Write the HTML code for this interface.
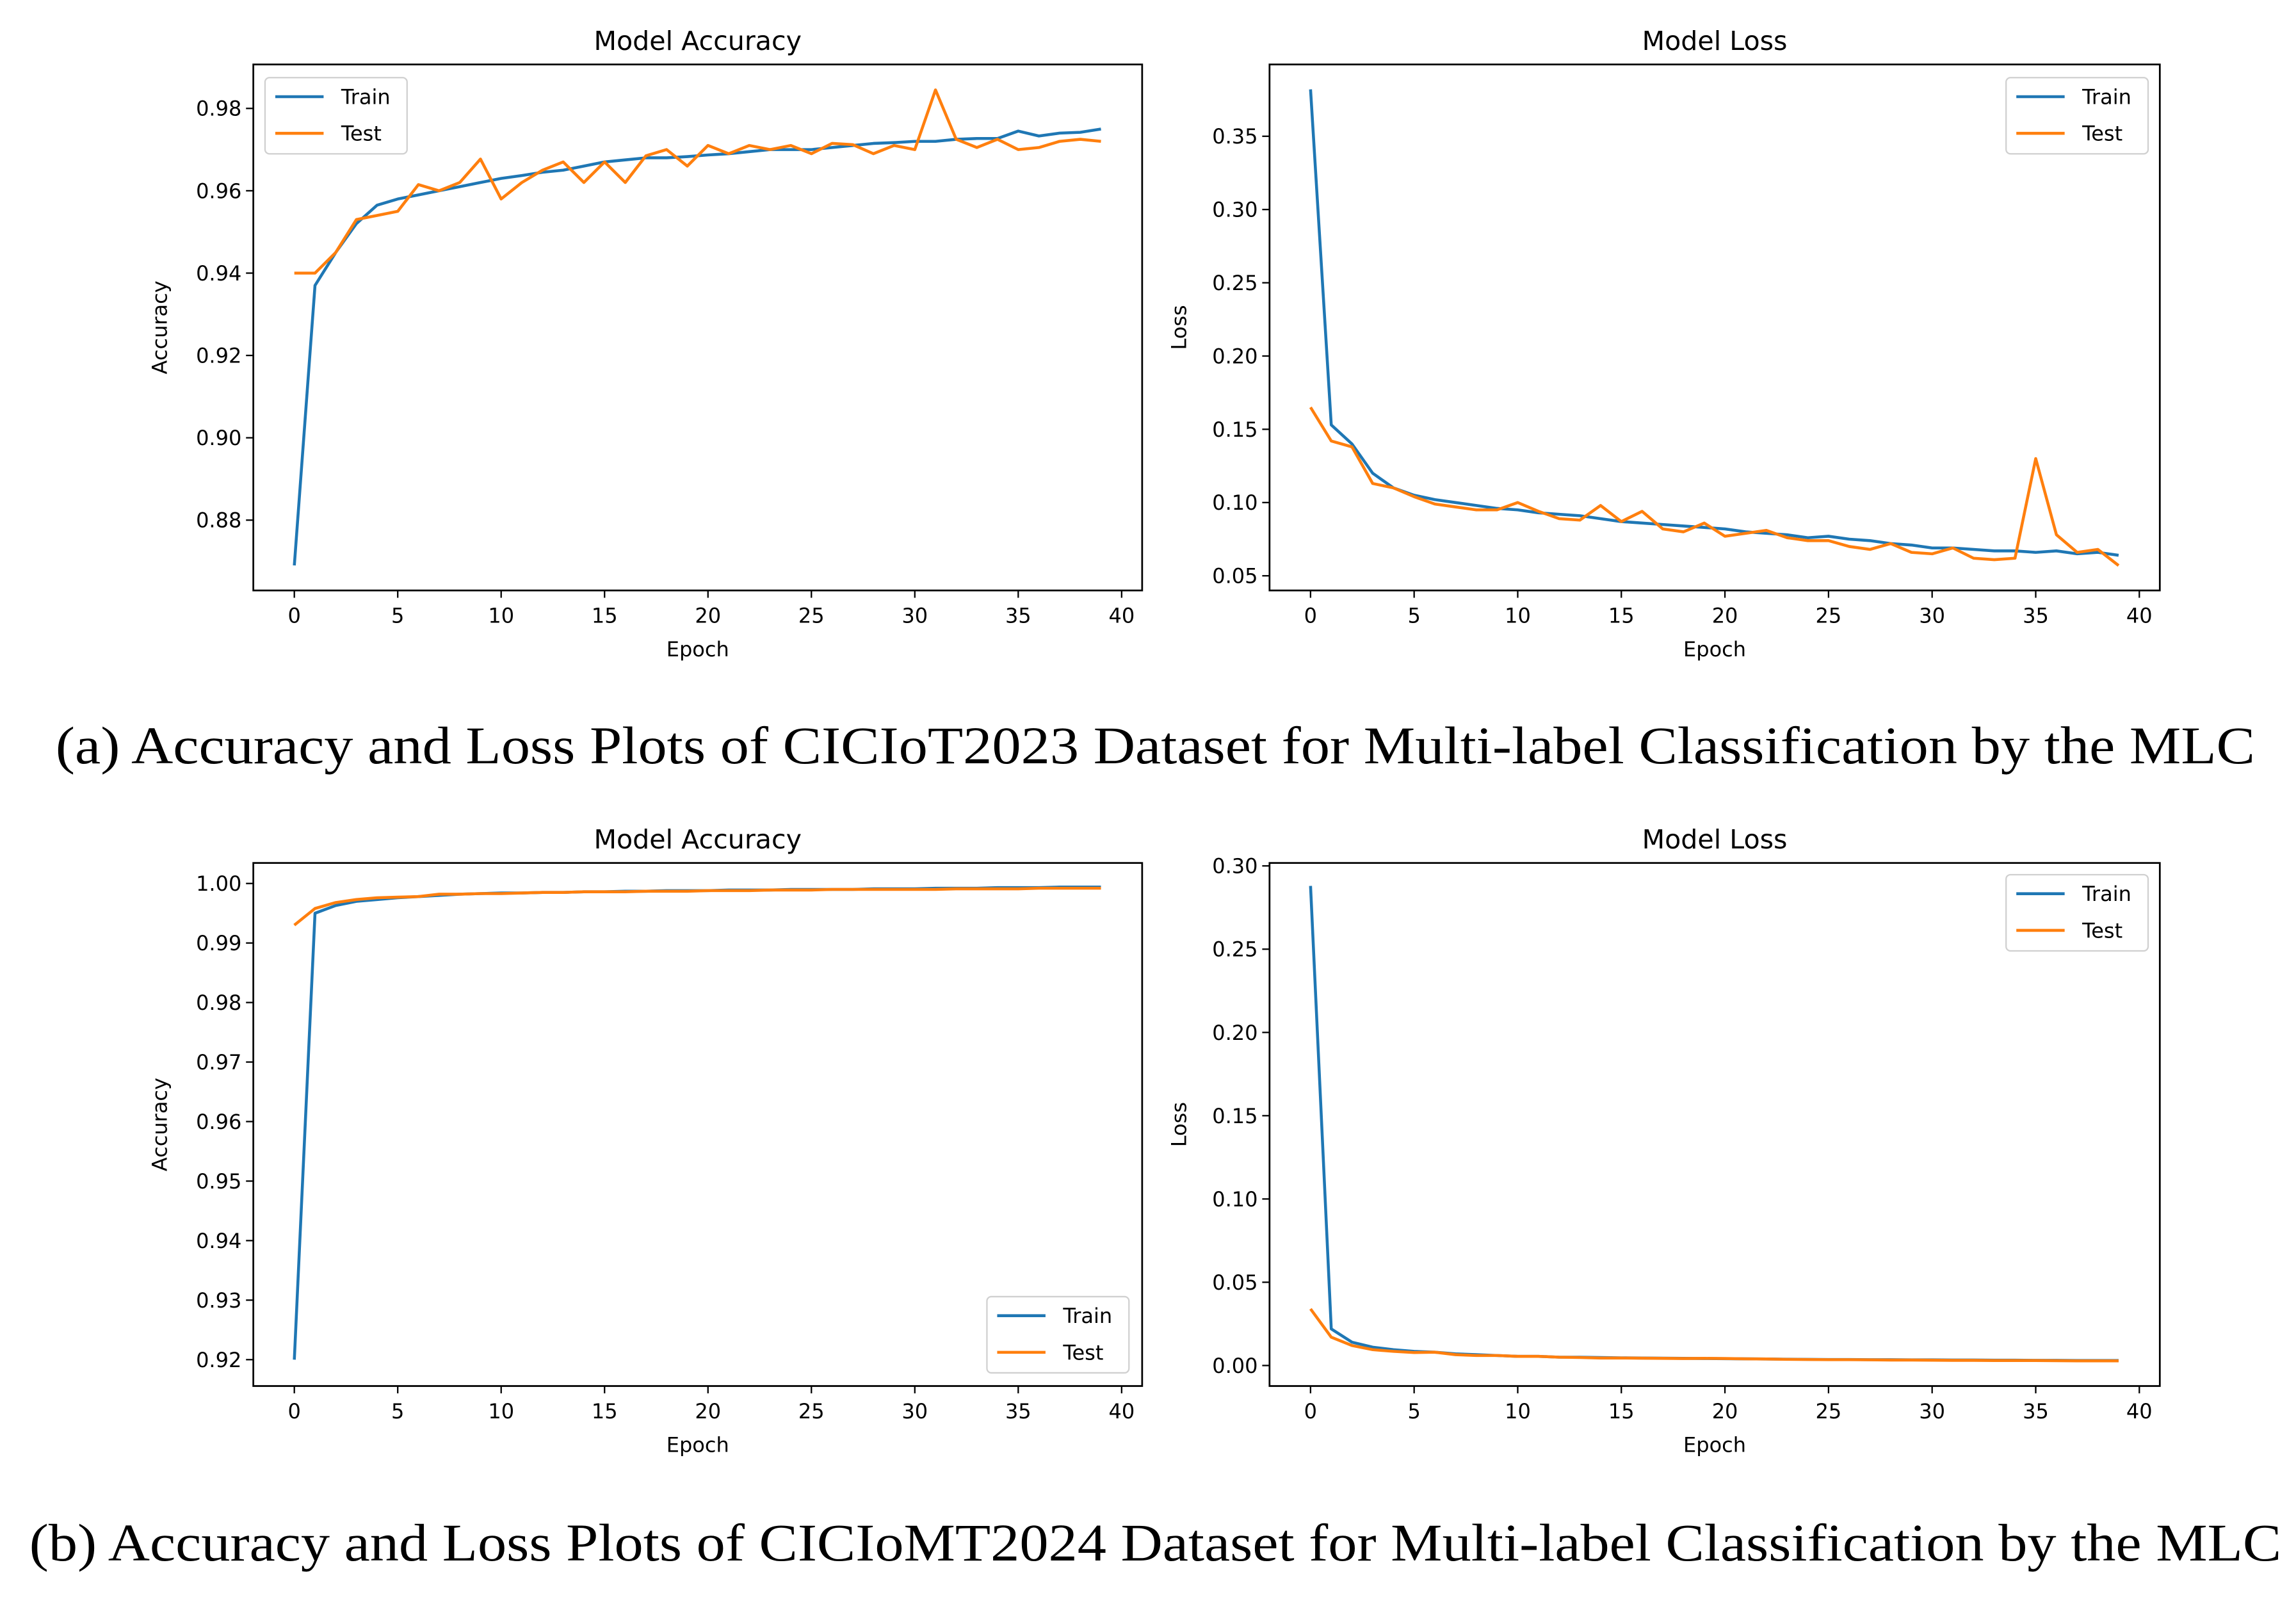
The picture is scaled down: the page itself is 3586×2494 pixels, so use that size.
<!DOCTYPE html>
<html><head><meta charset="utf-8">
<style>
html,body{margin:0;padding:0;background:#fff;}
svg{display:block;}
text{font-family:"DejaVu Sans","Liberation Sans",sans-serif;fill:#000;}
.cap{font-family:"Liberation Serif",serif;}
</style></head>
<body>
<svg id="fig" width="3586" height="2494" viewBox="0 0 1568 1090" preserveAspectRatio="none" xmlns="http://www.w3.org/2000/svg">
<text class="cap" x="38" y="521" font-size="36" textLength="1502" lengthAdjust="spacingAndGlyphs">(a)   Accuracy and Loss Plots of CICIoT2023 Dataset for Multi-label Classification by the MLC</text>
<text class="cap" x="20" y="1065" font-size="36" textLength="1538" lengthAdjust="spacingAndGlyphs">(b)   Accuracy and Loss Plots of CICIoMT2024 Dataset for Multi-label Classification by the MLC</text>
</svg>
<script>
const epochs = Array.from({length:40},(_,i)=>i);
const accTrainA = [0.869,0.937,0.945,0.952,0.9565,0.958,0.959,0.960,0.961,0.962,0.963,0.9637,0.9645,0.965,0.966,0.967,0.9675,0.968,0.968,0.9683,0.9687,0.969,0.9695,0.970,0.970,0.970,0.9705,0.971,0.9715,0.9717,0.972,0.972,0.9725,0.9727,0.9727,0.9745,0.9733,0.974,0.9742,0.975];
const accTestA = [0.940,0.940,0.945,0.953,0.954,0.955,0.9615,0.960,0.962,0.9677,0.958,0.962,0.965,0.967,0.962,0.967,0.962,0.9685,0.970,0.966,0.971,0.969,0.971,0.970,0.971,0.969,0.9715,0.9712,0.969,0.971,0.970,0.9845,0.9725,0.9705,0.9725,0.970,0.9705,0.972,0.9725,0.972];
const lossTrainA = [0.382,0.153,0.140,0.120,0.110,0.105,0.102,0.100,0.098,0.096,0.095,0.093,0.092,0.091,0.089,0.087,0.086,0.085,0.084,0.083,0.082,0.080,0.079,0.078,0.076,0.077,0.075,0.074,0.072,0.071,0.069,0.069,0.068,0.067,0.067,0.066,0.067,0.065,0.066,0.064];
const lossTestA = [0.165,0.142,0.138,0.113,0.110,0.104,0.099,0.097,0.095,0.095,0.100,0.094,0.089,0.088,0.098,0.087,0.094,0.082,0.080,0.086,0.077,0.079,0.081,0.076,0.074,0.074,0.070,0.068,0.072,0.066,0.065,0.069,0.062,0.061,0.062,0.130,0.078,0.066,0.068,0.057];
const accTrainB = [0.920,0.995,0.9963,0.997,0.9973,0.9976,0.9978,0.998,0.9982,0.9983,0.9984,0.9984,0.9985,0.9985,0.9986,0.9986,0.9987,0.9987,0.9988,0.9988,0.9988,0.9989,0.9989,0.9989,0.999,0.999,0.999,0.999,0.9991,0.9991,0.9991,0.9992,0.9992,0.9992,0.9993,0.9993,0.9993,0.9994,0.9994,0.9994];
const accTestB = [0.993,0.9958,0.9968,0.9973,0.9976,0.9977,0.9978,0.9982,0.9982,0.9983,0.9983,0.9984,0.9985,0.9985,0.9986,0.9986,0.9986,0.9987,0.9987,0.9987,0.9988,0.9988,0.9988,0.9989,0.9989,0.9989,0.999,0.999,0.999,0.999,0.999,0.999,0.9991,0.9991,0.9991,0.9991,0.9992,0.9992,0.9992,0.9992];
const lossTrainB = [0.288,0.022,0.014,0.011,0.0095,0.0085,0.008,0.007,0.0065,0.006,0.0055,0.0055,0.005,0.005,0.0048,0.0046,0.0045,0.0044,0.0043,0.0042,0.0041,0.004,0.0039,0.0038,0.0037,0.0036,0.0036,0.0035,0.0035,0.0034,0.0034,0.0033,0.0033,0.0032,0.0032,0.0031,0.0031,0.003,0.003,0.003];
const lossTestB = [0.034,0.017,0.012,0.0095,0.0085,0.0078,0.008,0.0065,0.006,0.006,0.0055,0.0055,0.005,0.0048,0.0045,0.0045,0.0044,0.0043,0.0042,0.0043,0.0042,0.004,0.0039,0.0037,0.0036,0.0035,0.0035,0.0034,0.0033,0.0033,0.0032,0.0031,0.0031,0.003,0.003,0.003,0.0029,0.0028,0.0028,0.0028];
const xTicks = [0,5,10,15,20,25,30,35,40];
const accTicksA = [0.88,0.90,0.92,0.94,0.96,0.98];
const lossTicksA = [0.05,0.10,0.15,0.20,0.25,0.30,0.35];
const accTicksB = [0.92,0.93,0.94,0.95,0.96,0.97,0.98,0.99,1.00];
const lossTicksB = [0.00,0.05,0.10,0.15,0.20,0.25,0.30];

const NS='http://www.w3.org/2000/svg';
const svg=document.getElementById('fig');
function mk(tag,attrs,parent){const e=document.createElementNS(NS,tag);for(const k in attrs)e.setAttribute(k,attrs[k]);(parent||svg).appendChild(e);return e;}

function panel(cfg){
  const g=mk('g',{});
  
  
  const X=v=>cfg.x0+(v-0)*(cfg.x40-cfg.x0)/40;
  const Y=v=>cfg.yA+(v-cfg.vA)*(cfg.yB-cfg.yA)/(cfg.vB-cfg.vA);
  const t=mk('text',{x:(cfg.L+cfg.R)/2,y:cfg.T-10,'font-size':18,'text-anchor':'middle'},g);
  t.textContent=cfg.title;
  
  
  xTicks.forEach(v=>{
    mk('line',{x1:X(v),x2:X(v),y1:cfg.B,y2:cfg.B+5,stroke:'#000','stroke-width':1},g);
    const tx=mk('text',{x:X(v),y:cfg.B+22,'font-size':14,'text-anchor':'middle'},g);
    tx.textContent=String(v);
    
    
  });
  cfg.yTicks.forEach(v=>{
    mk('line',{x1:cfg.L-5,x2:cfg.L,y1:Y(v),y2:Y(v),stroke:'#000','stroke-width':1},g);
    const ty=mk('text',{x:cfg.L-8,y:Y(v)+5,'font-size':14,'text-anchor':'end'},g);
    ty.textContent=v.toFixed(2);
    
    
  });
  const xl=mk('text',{x:(cfg.L+cfg.R)/2,y:cfg.B+45,'font-size':14,'text-anchor':'middle'},g);
  xl.textContent='Epoch';
  
  
  const yc=(cfg.T+cfg.B)/2;
  const yl=mk('text',{x:cfg.ylx,y:yc,'font-size':14,'text-anchor':'middle',transform:`rotate(-90 ${cfg.ylx} ${yc})`},g);
  yl.textContent=cfg.ylabel;
  
  
  const series=[[cfg.train,'#1f77b4','train-line'],[cfg.test,'#ff7f0e','test-line']];
  series.forEach(([d,c,n])=>{
    const p=mk('polyline',{points:d.map((v,i)=>X(epochs[i])+','+Y(v)).join(' '),fill:'none',stroke:c,'stroke-width':2,'stroke-linejoin':'round'},g);
    
    
  });
  const fr=mk('rect',{x:cfg.L,y:cfg.T,width:cfg.R-cfg.L,height:cfg.B-cfg.T,fill:'none',stroke:'#000','stroke-width':1.2},g);
  
  
  const lg=mk('g',{},g);
  
  
  const [lx,ly]=cfg.leg;
  mk('rect',{x:lx,y:ly,width:97,height:52,rx:3,fill:'#fff',stroke:'#d0d0d0','stroke-width':1},lg);
  [['Train','#1f77b4'],['Test','#ff7f0e']].forEach(([lab,c],i)=>{
    const yy=ly+13+i*25;
    mk('line',{x1:lx+7,x2:lx+40,y1:yy,y2:yy,stroke:c,'stroke-width':2},lg);
    const lt=mk('text',{x:lx+52,y:yy+5,'font-size':14},lg);
    lt.textContent=lab;
    
    
  });
}

panel({name:'accuracy-chart-a',title:'Model Accuracy',L:173,R:780,T:44,B:403,x0:201,x40:766,vA:0.98,yA:74,vB:0.88,yB:355,yTicks:accTicksA,ylabel:'Accuracy',ylx:114,train:accTrainA,test:accTestA,leg:[181,53]});
panel({name:'loss-chart-a',title:'Model Loss',L:867,R:1475,T:44,B:403,x0:895,x40:1461,vA:0.35,yA:93,vB:0.05,yB:393,yTicks:lossTicksA,ylabel:'Loss',ylx:810,train:lossTrainA,test:lossTestA,leg:[1370,53]});
panel({name:'accuracy-chart-b',title:'Model Accuracy',L:173,R:780,T:589,B:946,x0:201,x40:766,vA:1.00,yA:603,vB:0.92,yB:928,yTicks:accTicksB,ylabel:'Accuracy',ylx:114,train:accTrainB,test:accTestB,leg:[674,885]});
panel({name:'loss-chart-b',title:'Model Loss',L:867,R:1475,T:589,B:946,x0:895,x40:1461,vA:0.30,yA:591,vB:0.00,yB:932,yTicks:lossTicksB,ylabel:'Loss',ylx:810,train:lossTrainB,test:lossTestB,leg:[1370,597]});
</script>
</body></html>
